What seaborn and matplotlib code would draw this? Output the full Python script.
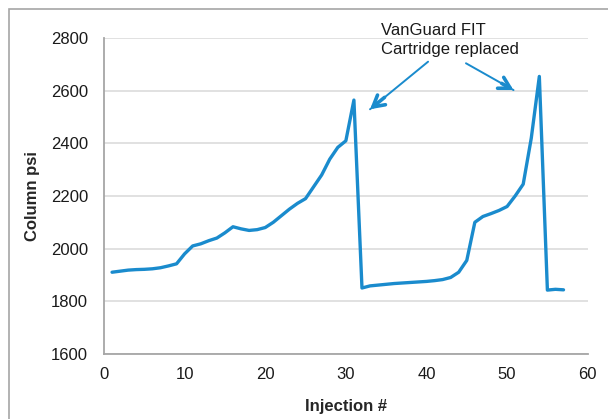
import matplotlib
matplotlib.use("Agg")
import matplotlib.pyplot as plt
from matplotlib.patches import Rectangle
import seaborn as sns
import pandas as pd

# Column back-pressure recorded for each injection
injections = list(range(1, 58))
column_psi = [1910, 1914, 1918, 1920, 1921, 1923, 1927, 1934, 1942, 1980,
              2010, 2018, 2030, 2040, 2060, 2083, 2075, 2069, 2072, 2080,
              2100, 2125, 2150, 2172, 2190, 2235, 2280, 2340, 2385, 2410,
              2565, 1850, 1858, 1861, 1864, 1867, 1869, 1871, 1873, 1875,
              1878, 1882, 1890, 1910, 1955, 2100, 2122, 2133, 2145, 2160,
              2200, 2245, 2420, 2655, 1842, 1845, 1843]

x_ticks = [0, 10, 20, 30, 40, 50, 60]
y_ticks = [1600, 1800, 2000, 2200, 2400, 2600, 2800]
note_text = "VanGuard FIT\nCartridge replaced"

df = pd.DataFrame({"Injection #": injections, "Column psi": column_psi})

sns.set_style("white")
plt.rcParams["font.family"] = ["Liberation Sans", "DejaVu Sans"]

LINE = "#1a8bcd"
GRAY = "#a6a6a6"

fig = plt.figure(figsize=(6.08, 4.19), dpi=100)
ax = fig.add_axes([104 / 608, 1 - 353.7 / 419, (587.7 - 104) / 608, (353.7 - 38.3) / 419])

# outer chart frame
fig.patches.append(Rectangle((9.3 / 608, -0.1), 1.2, (419 - 8.7) / 419 + 0.1,
                             transform=fig.transFigure, fill=False,
                             edgecolor=GRAY, linewidth=1.2))

sns.lineplot(data=df, x="Injection #", y="Column psi", ax=ax, color=LINE,
             linewidth=2.4, solid_capstyle="round", solid_joinstyle="round")

ax.set_xlim(0, 60)
ax.set_ylim(1600, 2800)
ax.set_xticks(x_ticks)
ax.set_yticks(y_ticks)
ax.yaxis.grid(True, color="#d9d9d9", linewidth=1.1)
ax.xaxis.grid(False)
ax.set_axisbelow(True)

for side in ("top", "right"):
    ax.spines[side].set_visible(False)
for side in ("left", "bottom"):
    ax.spines[side].set_color(GRAY)
    ax.spines[side].set_linewidth(1.3)

ax.tick_params(axis="both", which="major", direction="out", length=3.5,
               width=1.2, color=GRAY, labelsize=12, labelcolor="#1a1a1a")
ax.tick_params(axis="y", pad=8)
ax.tick_params(axis="x", pad=6)

ax.set_xlabel("Injection #", fontsize=12, fontweight="bold", labelpad=12)
ax.set_ylabel("Column psi", fontsize=12, fontweight="bold", labelpad=8)

# callout text with two arrows pointing at the replacement events
ax.text(34.3, 2857, note_text, fontsize=12, color="#1a1a1a", ha="left",
        va="top", linespacing=1.28, clip_on=False)

arrows = [((40.2, 2711), (33.0, 2530)), ((44.9, 2705), (50.8, 2603))]
for start, tip in arrows:
    ax.annotate("", xy=tip, xytext=start, annotation_clip=False,
                arrowprops=dict(arrowstyle="-", color=LINE, lw=1.4,
                                shrinkA=0, shrinkB=0))
    hx = tip[0] + (start[0] - tip[0]) * 0.25
    hy = tip[1] + (start[1] - tip[1]) * 0.25
    ax.annotate("", xy=tip, xytext=(hx, hy), annotation_clip=False,
                arrowprops=dict(arrowstyle="->,head_length=0.8,head_width=0.45",
                                color=LINE, lw=2.6, shrinkA=0, shrinkB=0,
                                capstyle="round", joinstyle="round"))

fig.savefig("out.png", dpi=100)
